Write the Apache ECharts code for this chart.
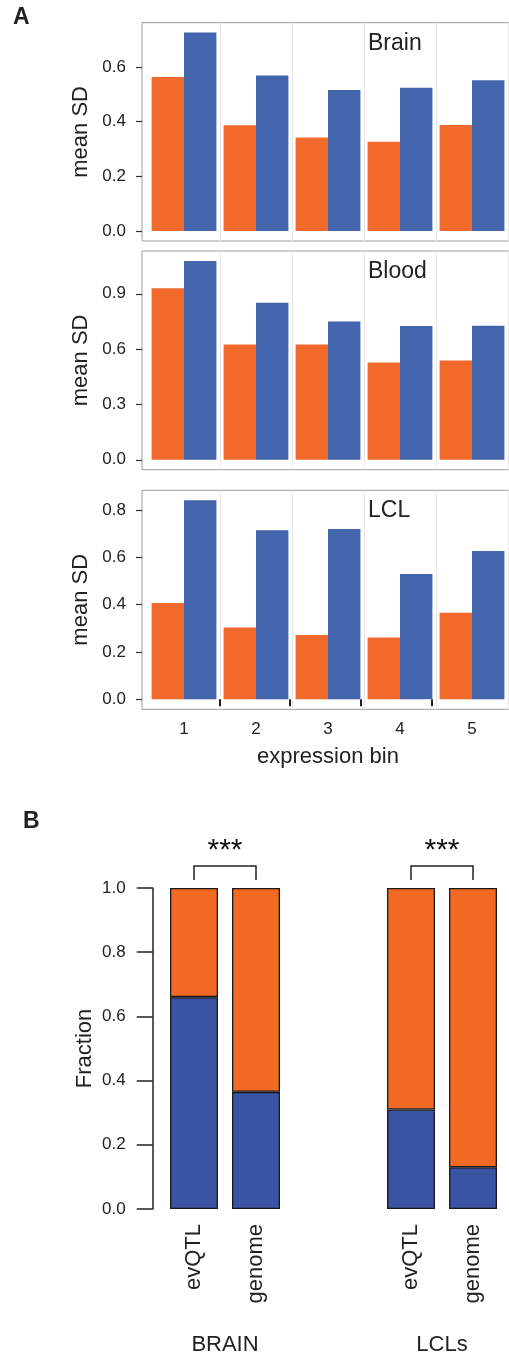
<!DOCTYPE html>
<html>
<head>
<meta charset="UTF-8">
<title>mean SD / Fraction</title>
<style>
  html, body { margin: 0; padding: 0; background: #fff; }
  #main { width: 509px; height: 1357px; }
</style>
</head>
<body>
<div id="main"></div>
<script src="https://cdn.jsdelivr.net/npm/echarts@6/dist/echarts.min.js"></script>
<script>
// ---- data ----
var bins = ['1', '2', '3', '4', '5'];

var brainOrange = [0.564, 0.387, 0.342, 0.327, 0.388];
var brainBlue   = [0.726, 0.569, 0.516, 0.524, 0.552];
var bloodOrange = [0.930, 0.625, 0.625, 0.527, 0.538];
var bloodBlue   = [1.078, 0.851, 0.749, 0.725, 0.727];
var lclOrange   = [0.407, 0.303, 0.272, 0.261, 0.366];
var lclBlue     = [0.841, 0.714, 0.720, 0.529, 0.627];

var brainTicks = [0, 0.2, 0.4, 0.6];
var bloodTicks = [0, 0.3, 0.6, 0.9];
var lclTicks   = [0, 0.2, 0.4, 0.6, 0.8];
var binEdges   = [1.5, 2.5, 3.5, 4.5];

var sets = ['evQTL', 'genome'];
var fracBrainBlue   = [0.66, 0.365];
var fracBrainOrange = [0.34, 0.635];
var fracLclBlue     = [0.31, 0.13];
var fracLclOrange   = [0.69, 0.87];

var FONT = '"Liberation Sans", Arial, sans-serif';
var TXT = '#222';
var ORANGE = '#F26A2B', BLUE = '#4265AE';
var ORANGE_B = '#F26924', BLUE_B = '#3A53A3';

var chart = echarts.init(document.getElementById('main'));

var grids = [], xAxes = [], yAxes = [], series = [], titles = [];

// one facet of panel A: an outer grid for the frame + axes ticks, an inner grid for the bars
function facet(top, height, min, max, ticks, orange, blue, label, last) {
  var g = grids.length;
  grids.push({ left: 142, right: -7.4, top: top, height: height, show: true,
               borderColor: '#9d9d9d', borderWidth: 1, backgroundColor: '#fff', containLabel: false });
  grids.push({ left: 148, width: 360, top: top, height: height, containLabel: false });

  // outer x: bin positions, range expanded 0.6 bin on each side
  xAxes.push({
    gridIndex: g, type: 'value', min: 0.4, max: 5.6,
    axisLine: { show: false },
    axisTick: { show: last, length: 7, customValues: binEdges, lineStyle: { color: TXT, width: 2 } },
    axisLabel: { show: false },
    splitLine: { show: false }
  });
  xAxes.push({
    gridIndex: g + 1, type: 'category', data: bins,
    axisLine: { show: false },
    axisTick: { show: false },
    axisLabel: { show: last, fontSize: 17, color: TXT, fontFamily: FONT, margin: 12 },
    splitLine: { show: true, lineStyle: { color: '#e8e8e8', width: 1 },
                 interval: function (i) { return i > 0 && i < 5; } },
    name: last ? 'expression bin' : '', nameLocation: 'middle', nameGap: 37,
    nameTextStyle: { fontSize: 22, color: TXT, fontFamily: FONT }
  });

  yAxes.push({
    gridIndex: g, type: 'value', min: min, max: max,
    axisLine: { show: false },
    axisTick: { show: true, length: 6, customValues: ticks, lineStyle: { color: '#333', width: 1.2 } },
    axisLabel: { customValues: ticks, fontSize: 17, color: TXT, fontFamily: FONT, margin: 16,
                 formatter: function (v) { return v.toFixed(1); } },
    splitLine: { show: false },
    name: 'mean SD', nameLocation: 'middle', nameGap: 47, nameRotate: 90,
    nameTextStyle: { fontSize: 22, color: TXT, fontFamily: FONT }
  });
  yAxes.push({ gridIndex: g + 1, type: 'value', min: min, max: max, show: false, splitLine: { show: false } });

  var xi = g + 1, yi = g + 1;
  series.push({ type: 'bar', name: 'orange', xAxisIndex: xi, yAxisIndex: yi, data: orange,
                barGap: '0%', barCategoryGap: '10%', itemStyle: { color: ORANGE } });
  series.push({ type: 'bar', name: 'blue', xAxisIndex: xi, yAxisIndex: yi, data: blue,
                barGap: '0%', barCategoryGap: '10%', itemStyle: { color: BLUE } });

  titles.push({ text: label, left: 368, top: top + 9, padding: 0,
                textStyle: { fontSize: 23, fontWeight: 'normal', color: TXT, fontFamily: FONT } });
}

facet(22.7, 218.3, -0.0363, 0.7623, brainTicks, brainOrange, brainBlue, 'Brain', false);
facet(251, 218.7, -0.0539, 1.1319, bloodTicks, bloodOrange, bloodBlue, 'Blood', false);
facet(490.3, 219, -0.042, 0.883, lclTicks, lclOrange, lclBlue, 'LCL', true);

// panel B: one grid per tissue
function fraction(left, blue, orange, tissue, first) {
  var g = grids.length;
  grids.push({ left: left, width: 124, top: 888, height: 324, containLabel: false });
  xAxes.push({
    gridIndex: g, type: 'category', data: sets,
    axisLine: { show: false }, axisTick: { show: false },
    axisLabel: { rotate: 90, fontSize: 22, color: TXT, fontFamily: FONT, margin: 15 },
    name: tissue, nameLocation: 'middle', nameGap: 125,
    nameTextStyle: { fontSize: 22, color: TXT, fontFamily: FONT }
  });
  yAxes.push({
    gridIndex: g, type: 'value', min: 0, max: 1, interval: 0.2, show: first,
    offset: left - 152.7,
    axisLine: { show: true, lineStyle: { color: TXT, width: 1.5 } },
    axisTick: { show: true, length: 16, lineStyle: { color: TXT, width: 1.5 } },
    axisLabel: { fontSize: 17, color: TXT, fontFamily: FONT, margin: 27,
                 formatter: function (v) { return v.toFixed(1); } },
    splitLine: { show: false },
    name: 'Fraction', nameLocation: 'middle', nameGap: 57, nameRotate: 90,
    nameTextStyle: { fontSize: 22, color: TXT, fontFamily: FONT }
  });
  var bar = { type: 'bar', xAxisIndex: g, yAxisIndex: g, stack: 'f' + g, barWidth: 48 };
  series.push(Object.assign({}, bar, { name: 'blue', data: blue,
    itemStyle: { color: BLUE_B, borderColor: '#1a1a1a', borderWidth: 1.3 } }));
  series.push(Object.assign({}, bar, { name: 'orange', data: orange,
    itemStyle: { color: ORANGE_B, borderColor: '#1a1a1a', borderWidth: 1.3 } }));
  // significance bracket between the two bars
  series.push({
    type: 'custom', xAxisIndex: g, yAxisIndex: g, data: [[0, 1]], silent: true, z: 5,
    renderItem: function (params, api) {
      var a = api.coord([0, 1]), b = api.coord([1, 1]);
      var y = a[1];
      return {
        type: 'group',
        children: [
          { type: 'polyline',
            shape: { points: [[a[0], y - 8], [a[0], y - 22], [b[0], y - 22], [b[0], y - 8]] },
            style: { stroke: '#222', lineWidth: 1.5, fill: null } },
          { type: 'text',
            style: { text: '***', x: (a[0] + b[0]) / 2, y: y - 37, align: 'center', verticalAlign: 'middle',
                     font: '30px ' + FONT, fill: '#111' } }
        ]
      };
    }
  });
}

fraction(163, fracBrainBlue, fracBrainOrange, 'BRAIN', true);
fraction(380, fracLclBlue, fracLclOrange, 'LCLs', false);

titles.push({ text: 'A', left: 13, top: 6, padding: 0,
              textStyle: { fontSize: 23, fontWeight: 'bold', color: TXT, fontFamily: FONT } });
titles.push({ text: 'B', left: 23, top: 810, padding: 0,
              textStyle: { fontSize: 23, fontWeight: 'bold', color: TXT, fontFamily: FONT } });

chart.setOption({
  animation: false,
  backgroundColor: '#fff',
  title: titles,
  grid: grids,
  xAxis: xAxes,
  yAxis: yAxes,
  series: series
});
</script>
</body>
</html>
